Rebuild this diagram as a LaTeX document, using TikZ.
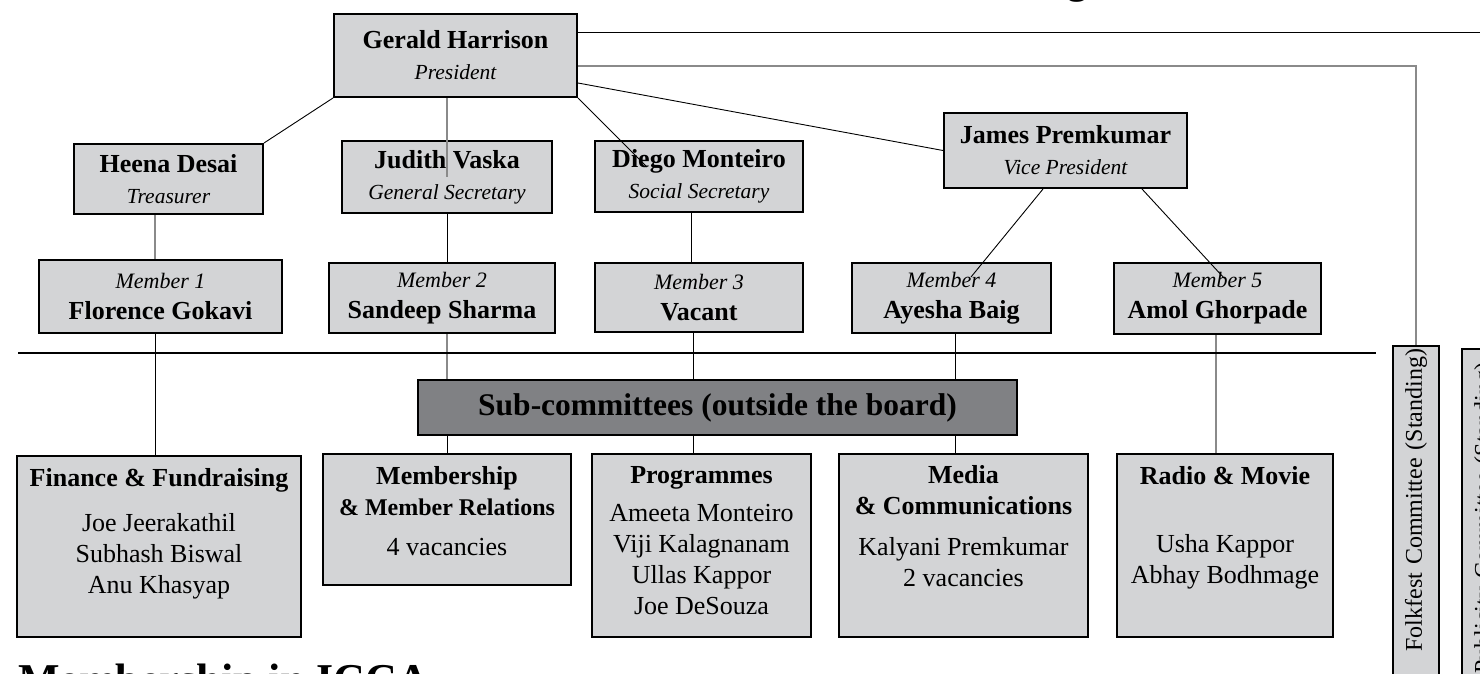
\documentclass[tikz,border=0pt]{standalone}
\usepackage{fontspec}
\setmainfont{Liberation Serif}
\usepackage{tikz}
\usetikzlibrary{positioning}
\definecolor{boxgray}{HTML}{D3D4D6}
\definecolor{subgray}{HTML}{808184}
\definecolor{linegray}{HTML}{8A8A8A}
\newcommand{\pname}[1]{{\fontsize{26}{31}\selectfont\bfseries #1}}
\newcommand{\prole}[1]{{\fontsize{21.5}{31}\selectfont\itshape #1}}
\newcommand{\pmem}[1]{{\fontsize{22}{31}\selectfont\itshape #1}}

\begin{document}
\begin{tikzpicture}[x=1pt,y=-1pt,
box/.style={draw=black,line width=2pt,fill=boxgray,align=center,inner sep=0pt,font=\fontsize{26}{31}\selectfont},
subtxt/.style={align=center,inner sep=0pt,font=\fontsize{26}{31}\selectfont},
sidebox/.style={draw=black,line width=2pt,fill=boxgray,rotate=90,anchor=east,minimum height=46pt,align=right,inner ysep=0pt,font=\fontsize{24}{28}\selectfont},
link/.style={black,line width=0.9pt},
glink/.style={linegray,line width=1.2pt}]
\useasboundingbox (0,0) rectangle (1480,674);
\clip (0,0) rectangle (1480,674);
\node[font=\fontsize{40}{48}\selectfont\bfseries,anchor=base west,inner sep=0pt] (title) at (790,-6) {ICCA Board Organisation};
\node[box,minimum width=243pt,minimum height=83pt] (gerald) at (455.5,55.5) {\pname{Gerald Harrison}\\\prole{President}};
\node[box,minimum width=189pt,minimum height=70pt] (heena) at (168.5,179) {\pname{Heena Desai}\\\prole{Treasurer}};
\node[box,minimum width=210pt,minimum height=72pt] (judith) at (447,177) {\pname{Judith Vaska}\\\prole{General Secretary}};
\node[box,minimum width=208pt,minimum height=71pt] (diego) at (699,176.5) {\pname{Diego Monteiro}\\\prole{Social Secretary}};
\node[box,minimum width=243pt,minimum height=75pt] (james) at (1065.5,150.5) {\pname{James Premkumar}\\\prole{Vice President}};
\node[box,minimum width=243pt,minimum height=73pt] (m1) at (160.5,296.5) {\pmem{Member 1}\\\pname{Florence Gokavi}};
\node[box,minimum width=226pt,minimum height=70pt] (m2) at (442,298) {\pmem{Member 2}\\\pname{Sandeep Sharma}};
\node[box,minimum width=208pt,minimum height=69pt] (m3) at (699,297.5) {\pmem{Member 3}\\\pname{Vacant}};
\node[box,minimum width=199pt,minimum height=70pt] (m4) at (951.5,298) {\pmem{Member 4}\\\pname{Ayesha Baig}};
\node[box,minimum width=207pt,minimum height=71pt] (m5) at (1217.5,298.5) {\pmem{Member 5}\\\pname{Amol Ghorpade}};
\coordinate (sepL) at (18,353);
\coordinate (sepR) at (1376,353);
\coordinate (toprt) at (1490,32);
\node[box,fill=subgray,minimum width=599pt,minimum height=55pt,font=\fontsize{31.5}{36}\selectfont\bfseries] (sub) at (717.5,407.5) {Sub-committees (outside the board)};
\node[box,minimum width=284pt,minimum height=181pt] (fin) at (159,546.5) {};
\node[box,minimum width=248pt,minimum height=131pt] (mem) at (447,519.5) {};
\node[box,minimum width=219pt,minimum height=183pt] (prog) at (701.5,545.5) {};
\node[box,minimum width=249pt,minimum height=183pt] (media) at (963.5,545.5) {};
\node[box,minimum width=216pt,minimum height=183pt] (radio) at (1225,545.5) {};
\node[subtxt,below=13pt of fin.north] (fin-t) {\textbf{Finance \& Fundraising}\\[14pt]Joe Jeerakathil\\Subhash Biswal\\Anu Khasyap};
\node[subtxt,below=13pt of mem.north] (mem-t) {\textbf{Membership}\\{\fontsize{24}{31}\selectfont\bfseries \& Member Relations}\\[9pt]4 vacancies};
\node[subtxt,below=13pt of prog.north] (prog-t) {\textbf{Programmes}\\[7pt]Ameeta Monteiro\\Viji Kalagnanam\\Ullas Kappor\\Joe DeSouza};
\node[subtxt,below=12pt of media.north] (media-t) {\textbf{Media}\\\textbf{\& Communications}\\[10pt]Kalyani Premkumar\\2 vacancies};
\node[subtxt,below=13pt of radio.north] (radio-t) {\textbf{Radio \& Movie}\\[37pt]Usha Kappor\\Abhay Bodhmage};
\node[sidebox,text width=414pt,inner xsep=3pt] (folk) at (1416,345) {Folkfest Committee (Standing)};
\node[sidebox,text width=392pt,inner xsep=14pt] (publ) at (1485,348) {Publicity Committee (Standing)};
\node[font=\fontsize{44}{52}\selectfont\bfseries,anchor=base west,inner sep=0pt] (memb) at (18,694) {Membership in ICCA};
\draw[link] ([yshift=23.5pt]gerald.east) -- (toprt);
\draw[glink] ([yshift=-10.5pt]gerald.east) -| (folk.east);
\draw[link] ([yshift=-27.5pt]gerald.east) -- (james.west);
\draw[link] (gerald.south west) -- (heena.north east);
\draw[glink] ([xshift=-8.5pt]gerald.south) -- (judith.center);
\draw[link] (gerald.south east) -- ([xshift=53pt,yshift=-27pt]diego.north west);
\draw[link] ([xshift=-22.5pt]james.south) -- ([xshift=19.5pt,yshift=-15pt]m4.north);
\draw[link] ([xshift=76.5pt]james.south) -- ([xshift=6.5pt,yshift=-16pt]m5.north);
\coordinate (col0) at ([xshift=-13.5pt]heena.south);
\coordinate (col3a) at ([xshift=-8pt]diego.south);
\draw[glink] (col0) -- (col0 |- m1.north);
\draw[link] (judith.south) -- (judith.south |- m2.north);
\draw[link] (col3a) -- (col3a |- m3.north);
\coordinate (col1) at ([xshift=-4pt]fin.north);
\coordinate (col3) at ([xshift=-8.5pt]prog.north);
\coordinate (col4) at ([xshift=-8.5pt]media.north);
\coordinate (col5) at ([xshift=-9pt]radio.north);
\draw[link] (col1 |- m1.south) -- (col1);
\draw[glink] (mem.north |- m2.south) -- (mem.north |- sub.north);
\draw[link] (mem.north |- sub.south) -- (mem.north);
\draw[link] (col3 |- m3.south) -- (col3 |- sub.north);
\draw[link] (col3 |- sub.south) -- (col3);
\draw[link] (col4 |- m4.south) -- (col4 |- sub.north);
\draw[link] (col4 |- sub.south) -- (col4);
\draw[glink] (col5 |- m5.south) -- (col5);
\draw[line width=2.5pt] (sepL) -- (sepR);
\end{tikzpicture}
\end{document}
